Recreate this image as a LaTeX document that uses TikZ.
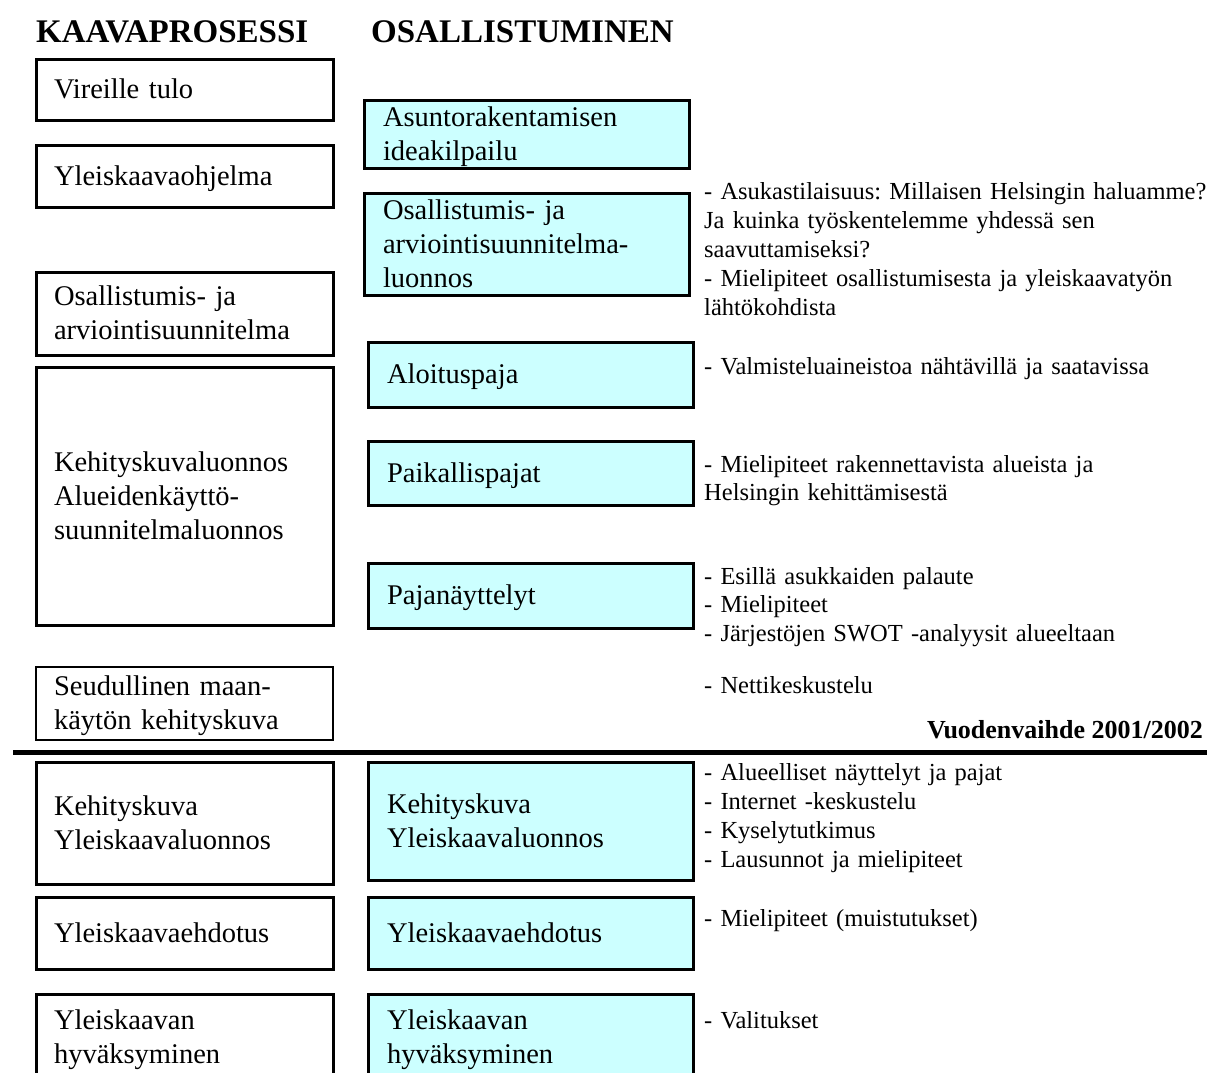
\documentclass[tikz,border=0pt]{standalone}
\usepackage{fontspec}
\setmainfont{Liberation Serif}
\definecolor{osavari}{HTML}{CCFFFF}
\newcommand{\laatikkofontti}{\fontsize{28.5}{34}\selectfont}
\newcommand{\huomfontti}{\fontsize{24.5}{28.5}\selectfont}
\newcommand{\otsikkofontti}{\fontsize{33}{36}\selectfont\bfseries}
\newcommand{\tuki}{\rule[-8pt]{0pt}{34pt}}
\frenchspacing

\begin{document}
\begin{tikzpicture}[x=1pt,y=-1pt,
	kaava/.style={draw, line width=3pt, outer sep=0pt, anchor=north west,
		text width=261pt, inner xsep=18pt, inner ysep=0pt, align=left, font=\laatikkofontti,
		execute at begin node=\tuki, execute at end node=\tuki},
	osa/.style={kaava, fill=osavari, text width=287pt, inner xsep=19pt},
	huom/.style={anchor=base west, text width=510pt, inner sep=0pt, align=left, font=\huomfontti},
	otsikko/.style={anchor=base west, inner sep=0pt, font=\otsikkofontti}]
	\clip (0,0) rectangle (1207,1073);
	\node[otsikko] (kaavaotsikko) at (36,43) {KAAVAPROSESSI};
	\node[otsikko] (osaotsikko) at (371,43) {OSALLISTUMINEN};

	\node[kaava, minimum height=60pt] (vireille) at (36,60) {Vireille tulo};
	\node[kaava, minimum height=62pt] (ohjelma) at (36,145) {Yleiskaavaohjelma};
	\node[kaava, minimum height=83pt] (oas) at (36,272) {Osallistumis- ja\\arviointisuunnitelma};
	\node[kaava, minimum height=258pt] (kehluonnos) at (36,367) {Kehityskuvaluonnos\\Alueidenkäyttö-\\suunnitelmaluonnos};
	\node[kaava, line width=1.2pt, minimum height=73pt] (seutu) at (36,667) {Seudullinen maan-\\käytön kehityskuva};
	\node[kaava, minimum height=122pt] (kehitys) at (36,762) {Kehityskuva\\Yleiskaavaluonnos};
	\node[kaava, minimum height=72pt] (ehdotus) at (36,897) {Yleiskaavaehdotus};
	\node[kaava, minimum height=86pt] (hyvaks) at (36,994) {Yleiskaavan\\hyväksyminen};

	\node[osa, minimum height=65pt] (kilpailu) at (364,100) {Asuntorakentamisen\\ideakilpailu};
	\node[osa, minimum height=100pt] (oasluonnos) at (364,193) {Osallistumis- ja\\arviointisuunnitelma-\\luonnos};
	\node[osa, minimum height=65pt] (aloitus) at (368,342) {Aloituspaja};
	\node[osa, minimum height=64pt] (paikalliset) at (368,441) {Paikallispajat};
	\node[osa, minimum height=65pt] (nayttelyt) at (368,563) {Pajanäyttelyt};
	\node[osa, minimum height=118pt] (kehitysosa) at (368,762) {Kehityskuva\\Yleiskaavaluonnos};
	\node[osa, minimum height=72pt] (ehdotusosa) at (368,897) {Yleiskaavaehdotus};
	\node[osa, minimum height=86pt] (hyvaksosa) at (368,994) {Yleiskaavan\\hyväksyminen};

	\node[huom, font=\fontsize{24.5}{29}\selectfont] (asukas) at (704,199) {- Asukastilaisuus: Millaisen Helsingin haluamme?\\Ja kuinka työskentelemme yhdessä sen\\saavuttamiseksi?\\- Mielipiteet osallistumisesta ja yleiskaavatyön\\lähtökohdista};
	\node[huom] (valmistelu) at (704,374) {- Valmisteluaineistoa nähtävillä ja saatavissa};
	\node[huom] (rakennettavat) at (704,472) {- Mielipiteet rakennettavista alueista ja\\Helsingin kehittämisestä};
	\node[huom] (palaute) at (704,584) {- Esillä asukkaiden palaute\\- Mielipiteet\\- Järjestöjen SWOT -analyysit alueeltaan};
	\node[huom] (netti) at (704,693) {- Nettikeskustelu};
	\node[otsikko, anchor=base east, font=\fontsize{26}{30}\selectfont\bfseries] (vuodenvaihde) at (1203,738) {Vuodenvaihde 2001/2002};
	\draw[line width=5pt] (13,752) -- (1207,752);

	\node[huom, font=\fontsize{24.5}{29}\selectfont] (alueelliset) at (704,780) {- Alueelliset näyttelyt ja pajat\\- Internet -keskustelu\\- Kyselytutkimus\\- Lausunnot ja mielipiteet};
	\node[huom] (muistutukset) at (704,926) {- Mielipiteet (muistutukset)};
	\node[huom] (valitukset) at (704,1028) {- Valitukset};
\end{tikzpicture}
\end{document}
